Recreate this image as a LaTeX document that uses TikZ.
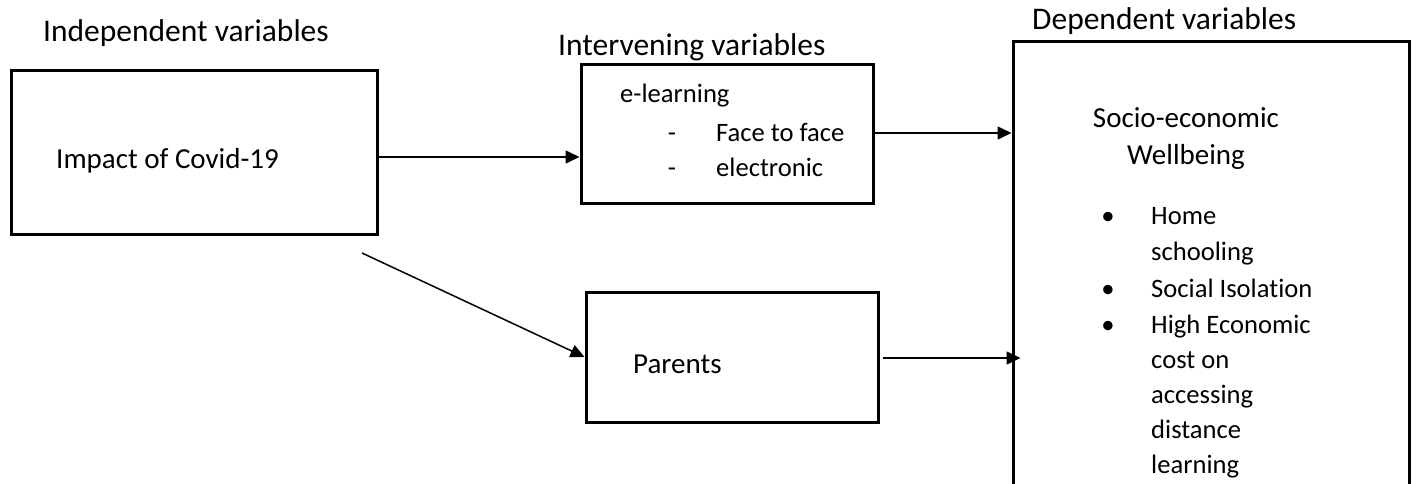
\documentclass[tikz,border=0pt]{standalone}
\usepackage{fontspec}
\setmainfont[Ligatures=NoCommon]{Carlito}
\usetikzlibrary{arrows.meta}
\begin{document}
\begin{tikzpicture}[x=1pt,y=-1pt,
  box/.style={draw,line width=3pt,inner sep=0pt},
  txt/.style={inner sep=0pt,anchor=base west,font=\fontsize{29}{35}\selectfont},
  head/.style={txt,font=\fontsize{31.5}{35}\selectfont},
  small/.style={txt,font=\fontsize{26.6}{35}\selectfont},
  dot/.style={inner sep=0pt,anchor=base,font=\fontsize{26.6}{35}\selectfont},
  title/.style={inner sep=0pt,anchor=base,font=\fontsize{29}{35}\selectfont},
  arr/.style={line width=1.5pt,-{Triangle[length=14pt,width=13pt]}}]
\useasboundingbox[fill=white] (0,0) rectangle (1417,484);
\clip (0,0) rectangle (1417,484);

% boxes
\node[box,minimum width=365.5pt,minimum height=163pt] (imp) at (194.25,152.5) {};
\node[box,minimum width=292pt,minimum height=138pt] (elearn) at (727,134) {};
\node[box,minimum width=292pt,minimum height=130pt] (par) at (732,357) {};
\node[box,minimum width=396pt,minimum height=498pt] (dep) at (1211,291) {};

% headings
\node[head] (hind) at (43,42) {Independent variables};
\node[head] (hint) at (558,56) {Intervening variables};
\node[head] (hdep) at (1032,30) {Dependent variables};

% box contents
\node[txt] (timp) at (56,168) {Impact of Covid-19};
\node[small] (tel) at (620,103) {e-learning};
\node[dot] (d1) at (672,142) {-};
\node[small] (tf) at (716,142) {Face to face};
\node[dot] (d2) at (672,177) {-};
\node[small] (te) at (716,177) {electronic};
\node[txt] (tpar) at (633,373) {Parents};
\node[title] (ts1) at (1186,128) {Socio-economic};
\node[title] (ts2) at (1186,165) {Wellbeing};

\node[dot] (b1) at (1108,225) {•};
\node[dot] (b2) at (1108,297) {•};
\node[dot] (b3) at (1108,333) {•};
\foreach \t/\y [count=\i] in {Home/225,schooling/260,Social Isolation/297,High Economic/333,cost on/368,accessing/403,distance/438,learning/473}
  \node[small] (li\i) at (1151,\y) {\t};

% connectors
\coordinate (a1) at (0,157);
\coordinate (a2) at (0,133);
\coordinate (a4) at (0,358);
\coordinate (s3) at (362,253);
\draw[arr] (imp.east |- a1) -- (elearn.west |- a1);
\draw[arr] (elearn.east |- a2) -- (dep.west |- a2);
\draw[arr] (s3) -- (par.west);
\draw[arr,shorten <=3pt,shorten >=-9pt] (par.east |- a4) -- (dep.west |- a4);
\end{tikzpicture}
\end{document}
